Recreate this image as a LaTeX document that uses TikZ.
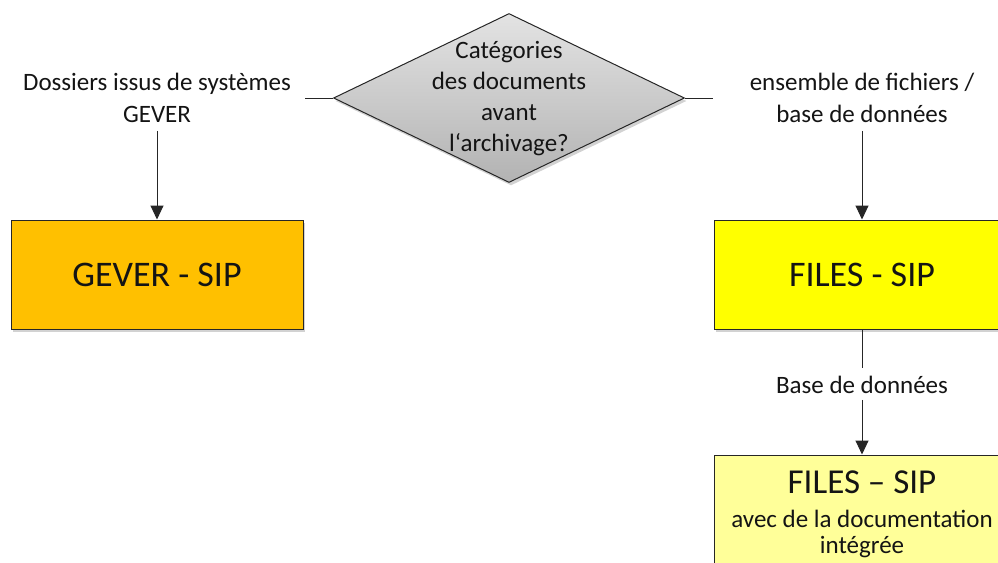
\documentclass[tikz,border=0pt]{standalone}
\usepackage{fontspec}
\setmainfont{Carlito}
\usetikzlibrary{shapes.geometric,arrows.meta,shadows}
\definecolor{gevfill}{HTML}{FFC000}
\definecolor{filfill}{HTML}{FFFF00}
\definecolor{docfill}{HTML}{FFFF99}
\definecolor{linegray}{HTML}{262626}
\definecolor{txt}{HTML}{141414}
\tikzset{
  sipbox/.style={draw=linegray, line width=1pt, rectangle, inner sep=0pt,
    text=txt, drop shadow={shadow xshift=2pt, shadow yshift=-3pt, opacity=0.35}},
  lbl/.style={text=txt, align=center, inner sep=0pt, font=\fontsize{25}{32}\selectfont},
  decision/.style={draw=linegray, line width=1pt, diamond, inner sep=0pt,
    top color=gray!22, bottom color=gray!60, shading angle=0,
    drop shadow={shadow xshift=2pt, shadow yshift=-3pt, opacity=0.35}},
  conn/.style={draw=linegray, line width=1pt},
  arr/.style={conn, -{Triangle[width=13pt,length=14pt]}}
}
\begin{document}
\begin{tikzpicture}[x=1pt,y=-1pt]
\useasboundingbox (0,0) rectangle (998,562);
\clip (0,0) rectangle (998,562);
\fill[white] (0,0) rectangle (998,562);
% decision
\node[decision, minimum width=351pt, minimum height=169pt] (q) at (509,98) {};
\node[lbl, font=\fontsize{25}{31}\selectfont] (qt) at (509,99) {Catégories\\des documents\\avant\\l‘archivage?};
\coordinate (lcut) at (305,98);
\coordinate (rcut) at (713,98);
\draw[conn] (q.west) -- (lcut);
\draw[conn] (q.east) -- (rcut);
% labels
\node[lbl] (ll) at (157,98) {Dossiers issus de systèmes\\GEVER};
\node[lbl] (rl) at (862,98) {ensemble de fichiers /\\base de données};
% boxes
\node[sipbox, fill=gevfill, minimum width=292pt, minimum height=109pt,
  font=\fontsize{36}{40}\selectfont] (gev) at (157,274.5) {GEVER - SIP};
\node[sipbox, fill=filfill, minimum width=296pt, minimum height=109pt,
  font=\fontsize{36}{40}\selectfont] (fil) at (862,274.5) {FILES - SIP};
\node[lbl] (bd) at (862,385) {Base de données};
\node[sipbox, fill=docfill, minimum width=296pt, minimum height=118pt, align=center,
  font=\fontsize{25}{26}\selectfont]
  (doc) at (862,514) {{\fontsize{35}{35}\selectfont FILES – SIP}\\[8pt]
  avec de la documentation\\intégrée};
% connectors
\draw[arr] ([yshift=-8pt]ll.south) -- (gev.north);
\draw[arr] ([yshift=-8pt]rl.south) -- (fil.north);
\draw[conn] (fil.south) -- ([yshift=8pt]bd.north);
\draw[arr] ([yshift=-6pt]bd.south) -- (doc.north);
\end{tikzpicture}
\end{document}
